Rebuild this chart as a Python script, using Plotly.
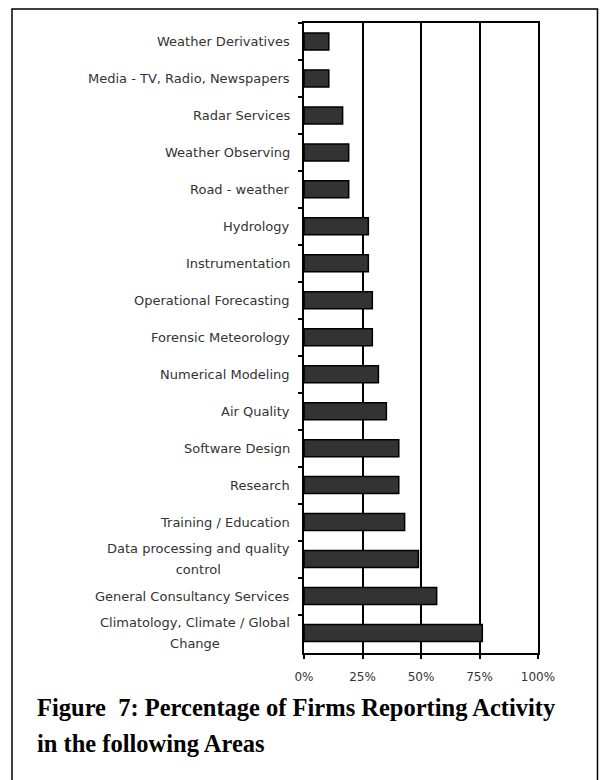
import plotly.graph_objects as go

categories = [
    "Weather Derivatives",
    "Media - TV, Radio, Newspapers",
    "Radar Services",
    "Weather Observing",
    "Road - weather",
    "Hydrology",
    "Instrumentation",
    "Operational Forecasting",
    "Forensic Meteorology",
    "Numerical Modeling",
    "Air Quality",
    "Software Design",
    "Research",
    "Training / Education",
    "Data processing and quality<br>control",
    "General Consultancy Services",
    "Climatology, Climate / Global<br>Change",
]
values = [10.6, 10.6, 16.5, 19.1, 19.1, 27.5, 27.5, 29.2, 29.2, 31.8,
          35.2, 40.5, 40.5, 43.0, 48.9, 56.7, 76.2]
tick_vals = [0, 25, 50, 75, 100]
tick_text = ["0%", "25%", "50%", "75%", "100%"]
caption_lines = ["Figure  7: Percentage of Firms Reporting Activity",
                 "in the following Areas"]

W, H = 601, 780
L, R, T, B = 304, 63, 23, 127
PW, PH = W - L - R, H - T - B


def px_x(px):
    return (px - L) / PW


def px_y(py):
    return 1 - (py - T) / PH


fig = go.Figure()
fig.add_trace(go.Bar(
    x=values, y=categories, orientation="h",
    marker=dict(color="#333333", line=dict(color="#000000", width=1.5)),
    hoverinfo="skip",
))

label_font = dict(family="DejaVu Sans", size=13, color="#333333")
annotations = []
for cat in categories:
    if "<br>" in cat:
        parts = cat.split("<br>")
        txt = "<br>".join('<span style="font-size:13px">%s</span>' % p for p in parts)
        annotations.append(dict(
            x=0, xref="paper", y=cat, yref="y", text=txt, showarrow=False,
            xanchor="right", yanchor="middle", align="center", xshift=-12,
            font=dict(family="DejaVu Sans", size=16.2, color="#333333"),
        ))
    else:
        annotations.append(dict(
            x=0, xref="paper", y=cat, yref="y", text=cat, showarrow=False,
            xanchor="right", yanchor="middle", align="center", xshift=-12,
            font=label_font,
        ))

cap_font = dict(family="Liberation Serif", size=24.5, color="#000000")
for i, line in enumerate(caption_lines):
    annotations.append(dict(
        x=px_x(35), xref="paper", y=px_y(717 + i * 35.6), yref="paper",
        text="<b>%s</b>" % line, showarrow=False, xanchor="left",
        yanchor="bottom", yshift=-6, font=cap_font,
    ))

fig.update_layout(
    width=W, height=H,
    margin=dict(l=L, r=R, t=T, b=B),
    paper_bgcolor="white", plot_bgcolor="white",
    showlegend=False, bargap=0.54,
    annotations=annotations,
    shapes=[dict(
        type="rect", xref="paper", yref="paper",
        x0=px_x(12), x1=px_x(597.5), y0=px_y(9), y1=px_y(800),
        line=dict(color="#000000", width=1.5), fillcolor="rgba(0,0,0,0)",
        layer="above",
    )],
    xaxis=dict(
        range=[0, 100], tickvals=tick_vals, ticktext=tick_text,
        showgrid=True, gridcolor="#000000", gridwidth=2,
        showline=True, linecolor="#000000", linewidth=2, mirror=True,
        ticks="outside", ticklen=4, tickwidth=1.5, tickcolor="#000000",
        tickfont=dict(family="DejaVu Sans", size=12, color="#333333"),
        ticklabelstandoff=8, zeroline=False, fixedrange=True,
    ),
    yaxis=dict(
        categoryorder="array", categoryarray=categories, autorange="reversed",
        showticklabels=False, showgrid=False, zeroline=False,
        showline=True, linecolor="#000000", linewidth=2, mirror=True,
        ticks="outside", ticklen=4, tickwidth=1.5, tickcolor="#000000",
        tickson="boundaries", fixedrange=True,
    ),
)

fig.write_html("out.html")
